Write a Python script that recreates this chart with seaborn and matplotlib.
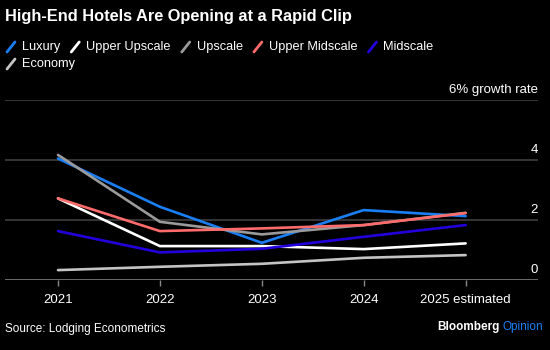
import pandas as pd
import seaborn as sns
import matplotlib.pyplot as plt
from matplotlib.lines import Line2D

years = ["2021", "2022", "2023", "2024", "2025 estimated"]
luxury = [4.05, 2.44, 1.24, 2.33, 2.13]
upper_upscale = [2.72, 1.13, 1.13, 1.03, 1.22]
upscale = [4.17, 1.94, 1.52, 1.83, 2.24]
upper_midscale = [2.72, 1.63, 1.72, 1.83, 2.23]
midscale = [1.63, 0.92, 1.04, 1.44, 1.83]
economy = [0.33, 0.44, 0.54, 0.74, 0.83]

segments = ["Luxury", "Upper Upscale", "Upscale", "Upper Midscale", "Midscale", "Economy"]
colors = ["#1a7ff5", "#ffffff", "#9a9a9a", "#ff6b6b", "#2200dd", "#c4c4c4"]
y_ticks = [0, 2, 4, 6]
y_tick_labels = ["0", "2", "4", "6% growth rate"]

series = [luxury, upper_upscale, upscale, upper_midscale, midscale, economy]
rows = []
for name, vals in zip(segments, series):
    for yr, v in zip(years, vals):
        rows.append({"year": yr, "segment": name, "growth": v})
df = pd.DataFrame(rows)

sns.set_style("dark")
plt.rcParams["font.family"] = ["Liberation Sans", "DejaVu Sans"]

fig = plt.figure(figsize=(5.5, 3.5), dpi=100, facecolor="black")
ax = fig.add_axes([5 / 550, 70 / 350, 533 / 550, 180 / 350])
ax.set_facecolor("black")

# gridlines first so the series sit on top
for t, lab in zip(y_ticks, y_tick_labels):
    ax.axhline(t, color="#888888" if t == 0 else "#444444", lw=1.1, zorder=1)
    ax.text(1.0, t + 0.12, lab, transform=ax.get_yaxis_transform(),
            ha="right", va="bottom", color="white", fontsize=9.5)

sns.lineplot(data=df, x="year", y="growth", hue="segment", hue_order=segments,
             palette=colors, linewidth=1.9, sort=False, legend=False, ax=ax, zorder=3)

ax.set_xlim(-0.52, 4.71)
ax.set_ylim(0, 6)
ax.set_xlabel("")
ax.set_ylabel("")
ax.set_yticks([])
ax.tick_params(axis="x", colors="#888888", length=4, width=1, pad=6, labelcolor="white",
               labelsize=9.5, bottom=True)
for s in ax.spines.values():
    s.set_visible(False)
ax.grid(False)

fig.text(5 / 550, 1 - 16 / 350, "High-End Hotels Are Opening at a Rapid Clip",
         color="white", fontsize=11.8, fontweight="bold", va="center", ha="left")

# legend laid out by hand, slash icons like the original
renderer = fig.canvas.get_renderer()
legend_rows = [segments[:5], segments[5:]]
row_y = [47, 64]
for row, yy in zip(legend_rows, row_y):
    x = 7
    for name in row:
        c = colors[segments.index(name)]
        fig.add_artist(Line2D([x / 550, (x + 8) / 550],
                              [1 - (yy + 5) / 350, 1 - (yy - 5) / 350],
                              color=c, lw=2.0, transform=fig.transFigure))
        t = fig.text((x + 15) / 550, 1 - yy / 350, name, color="white",
                     fontsize=9.2, va="center", ha="left")
        w = t.get_window_extent(renderer).width
        x = x + 15 + w + 11

fig.text(5 / 550, 1 - 329 / 350, "Source: Lodging Econometrics", color="white",
         fontsize=8.5, va="center", ha="left")
t2 = fig.text(543 / 550, 1 - 327 / 350, "Opinion", color="#1a7ff5",
              fontsize=8.5, va="center", ha="right")
w2 = t2.get_window_extent(renderer).width
fig.text((543 - w2 - 3) / 550, 1 - 327 / 350, "Bloomberg", color="white",
         fontsize=8.5, fontweight="bold", va="center", ha="right")

fig.savefig("out.png", dpi=100, facecolor="black")
